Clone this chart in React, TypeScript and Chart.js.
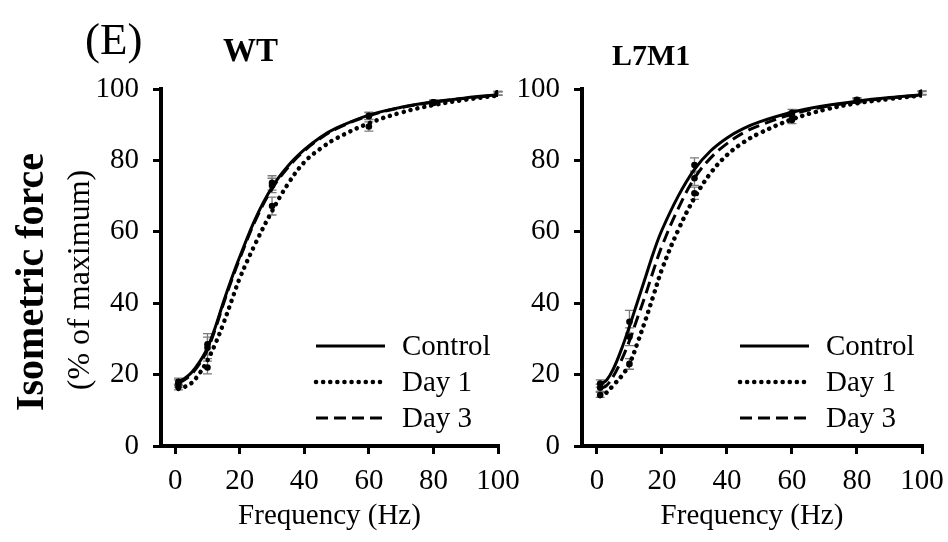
import React, { useEffect, useRef } from "react";
import { Chart, registerables } from "chart.js";

Chart.register(...registerables);

// ---------- data ----------
const SERIES_LABELS = ["Control", "Day 1", "Day 3"];
const X_TICKS = [0, 20, 40, 60, 80, 100];
const Y_TICKS = [0, 20, 40, 60, 80, 100];

// fitted curves
const FIT_FREQ = [1, 3, 5, 7.5, 10, 12.5, 15, 17.5, 20, 25, 30, 35, 40, 45, 50, 60, 70, 80, 90, 100];
const WT_CONTROL_FIT = [18, 19, 20.5, 23.5, 27.5, 33.5, 40.5, 47, 53, 64, 72.5, 78.5, 83, 86.5, 89.1, 92.7, 94.9, 96.4, 97.5, 98.4];
const WT_DAY1_FIT = [16, 16.6, 17.6, 20.3, 24, 28.8, 34.5, 40.8, 47, 57, 65.8, 73.5, 79.5, 83.3, 86.2, 90.4, 93.4, 95.5, 97, 98.2];
const WT_DAY3_FIT = [17.6, 18.6, 20.1, 23, 27, 33, 40, 46.5, 52.5, 63.5, 72, 78.1, 82.7, 86.2, 88.9, 92.5, 94.8, 96.3, 97.4, 98.3];

const L7M1_CONTROL_FIT = [17.3, 18.5, 21.5, 27, 33.5, 40.5, 47.5, 54.5, 60.5, 70, 77.5, 82.7, 86.3, 88.9, 90.8, 93.5, 95.3, 96.6, 97.6, 98.4];
const L7M1_DAY1_FIT = [14, 15, 17, 19.5, 23, 29, 35.5, 42.5, 49.5, 60.5, 69.5, 76.5, 81.5, 85, 87.6, 91.5, 94.2, 96, 97.2, 98.2];
const L7M1_DAY3_FIT = [16, 17, 19.5, 24, 29.5, 36, 42.5, 49.5, 56, 66.5, 75, 80.7, 84.7, 87.7, 89.8, 92.9, 95, 96.4, 97.5, 98.3];

// measured means and error bars
const DATA_FREQ = [1, 10, 30, 60, 80, 100];
const WT_CONTROL_MEAN = [18, 28.5, 73.7, 92.5, 96.3, 98.8];
const WT_CONTROL_ERR = [1, 3, 2, 1, 0.6, 0.5];
const WT_DAY1_MEAN = [16.5, 22, 67.2, 89.5, 96.1, 98.7];
const WT_DAY1_ERR = [0.8, 1.8, 2.5, 1.3, 0.6, 0.5];
const WT_DAY3_MEAN = [17.5, 27.5, 73, 92.4, 96.3, 98.8];
const WT_DAY3_ERR = [1, 3, 2, 1, 0.6, 0.5];

const L7M1_CONTROL_MEAN = [17.5, 34.8, 78.7, 93.3, 97, 99];
const L7M1_CONTROL_ERR = [1, 3.2, 2, 1, 0.6, 0.5];
const L7M1_DAY1_MEAN = [14.3, 23, 70.8, 91.3, 96.6, 98.8];
const L7M1_DAY1_ERR = [0.7, 1.5, 1.7, 1, 0.6, 0.5];
const L7M1_DAY3_MEAN = [16.3, 30.6, 75, 92.6, 96.8, 98.9];
const L7M1_DAY3_ERR = [1, 2.5, 2, 1, 0.6, 0.5];

// ---------- styles ----------
const FONT = "'Liberation Serif', 'Times New Roman', serif";
const LINE_STYLES = [
  { dash: [] as number[], width: 3, cap: "butt" as CanvasLineCap },
  { dash: [0.1, 7], width: 4.5, cap: "round" as CanvasLineCap },
  { dash: [12, 6], width: 3, cap: "butt" as CanvasLineCap },
];

const toXY = (xs: number[], ys: number[]) => xs.map((x, i) => ({ x, y: ys[i] }));

const errorBarPlugin = {
  id: "errorBars",
  beforeDatasetsDraw(chart: any) {
    const { ctx } = chart;
    const xs = chart.scales.x;
    const ys = chart.scales.y;
    ctx.save();
    ctx.strokeStyle = "#7a7a7a";
    ctx.lineWidth = 1.3;
    chart.data.datasets.forEach((ds: any) => {
      if (!ds.errors) return;
      ds.data.forEach((p: any, i: number) => {
        const e = ds.errors[i];
        const px = xs.getPixelForValue(p.x);
        const y1 = ys.getPixelForValue(p.y + e);
        const y2 = ys.getPixelForValue(p.y - e);
        ctx.beginPath();
        ctx.moveTo(px, y1);
        ctx.lineTo(px, y2);
        ctx.moveTo(px - 4.5, y1);
        ctx.lineTo(px + 4.5, y1);
        ctx.moveTo(px - 4.5, y2);
        ctx.lineTo(px + 4.5, y2);
        ctx.stroke();
      });
    });
    ctx.restore();
  },
};

const legendPlugin = {
  id: "inlineLegend",
  afterDatasetsDraw(chart: any) {
    const { ctx, chartArea } = chart;
    const offsets = [100, 64, 28];
    ctx.save();
    SERIES_LABELS.forEach((label, i) => {
      const st = LINE_STYLES[i];
      const y = chartArea.bottom - offsets[i];
      ctx.beginPath();
      ctx.setLineDash(st.dash);
      ctx.lineCap = st.cap;
      ctx.lineWidth = st.width;
      ctx.strokeStyle = "#000";
      ctx.moveTo(chartArea.right - 182, y);
      ctx.lineTo(chartArea.right - 113, y);
      ctx.stroke();
      ctx.setLineDash([]);
      ctx.fillStyle = "#000";
      ctx.font = `29px ${FONT}`;
      ctx.textBaseline = "middle";
      ctx.textAlign = "left";
      ctx.fillText(label, chartArea.right - 96, y + 1);
    });
    ctx.restore();
  },
};

type PanelProps = {
  left: number;
  width: number;
  yAxisWidth: number;
  rightPad: number;
  xMin: number;
  fits: number[][];
  means: number[][];
  errs: number[][];
};

function Panel(props: PanelProps) {
  const ref = useRef<HTMLCanvasElement>(null);
  useEffect(() => {
    if (!ref.current) return;
    const datasets: any[] = [];
    props.fits.forEach((f, i) => {
      const st = LINE_STYLES[i];
      datasets.push({
        label: SERIES_LABELS[i],
        data: toXY(FIT_FREQ, f),
        showLine: true,
        borderColor: "#000",
        borderWidth: st.width,
        borderDash: st.dash,
        borderCapStyle: st.cap,
        pointRadius: 0,
        tension: 0.4,
        fill: false,
      });
    });
    props.means.forEach((m, i) => {
      datasets.push({
        label: SERIES_LABELS[i] + " data",
        data: toXY(DATA_FREQ, m),
        errors: props.errs[i],
        showLine: false,
        pointRadius: 3.3,
        pointBackgroundColor: "#000",
        pointBorderColor: "#000",
        pointBorderWidth: 0,
      });
    });
    const chart = new Chart(ref.current, {
      type: "scatter",
      data: { datasets },
      options: {
        animation: false,
        responsive: false,
        maintainAspectRatio: false,
        layout: { padding: { left: 0, top: 89, right: props.rightPad, bottom: 0 } },
        plugins: { legend: { display: false }, tooltip: { enabled: false } },
        scales: {
          x: {
            type: "linear",
            min: props.xMin,
            max: 100,
            afterBuildTicks: (s: any) => {
              s.ticks = X_TICKS.map((v) => ({ value: v }));
            },
            afterFit: (s: any) => {
              s.height = 96;
            },
            border: { display: true, color: "#000", width: 4 },
            grid: { drawOnChartArea: false, drawTicks: true, tickLength: 8, lineWidth: 3, color: "#000" },
            ticks: { color: "#000", font: { family: FONT, size: 29 }, padding: 10, maxRotation: 0 },
            title: {
              display: true,
              text: "Frequency (Hz)",
              color: "#000",
              font: { family: FONT, size: 29 },
              padding: { top: 0, bottom: 8 },
            },
          },
          y: {
            type: "linear",
            min: 0,
            max: 100,
            afterBuildTicks: (s: any) => {
              s.ticks = Y_TICKS.map((v) => ({ value: v }));
            },
            afterFit: (s: any) => {
              s.width = props.yAxisWidth;
            },
            border: { display: true, color: "#000", width: 4 },
            grid: { drawOnChartArea: false, drawTicks: true, tickLength: 8, lineWidth: 3, color: "#000" },
            ticks: { color: "#000", font: { family: FONT, size: 29 }, padding: 14 },
          },
        },
      },
      plugins: [errorBarPlugin, legendPlugin],
    } as any);
    return () => chart.destroy();
  }, []);
  return (
    <canvas
      ref={ref}
      width={props.width}
      height={542}
      style={{ position: "absolute", left: props.left, top: 0, width: props.width, height: 542 }}
    />
  );
}

const textBase: React.CSSProperties = {
  position: "absolute",
  fontFamily: FONT,
  lineHeight: 1,
  color: "#000",
  whiteSpace: "nowrap",
};

export default function App() {
  return (
    <div style={{ position: "fixed", left: 0, top: 0, width: 948, height: 542, background: "#fff", overflow: "hidden" }}>
      <Panel
        left={0}
        width={540}
        yAxisWidth={161}
        rightPad={42}
        xMin={-4.4}
        fits={[WT_CONTROL_FIT, WT_DAY1_FIT, WT_DAY3_FIT]}
        means={[WT_CONTROL_MEAN, WT_DAY1_MEAN, WT_DAY3_MEAN]}
        errs={[WT_CONTROL_ERR, WT_DAY1_ERR, WT_DAY3_ERR]}
      />
      <Panel
        left={500}
        width={464}
        yAxisWidth={82}
        rightPad={42}
        xMin={-4.6}
        fits={[L7M1_CONTROL_FIT, L7M1_DAY1_FIT, L7M1_DAY3_FIT]}
        means={[L7M1_CONTROL_MEAN, L7M1_DAY1_MEAN, L7M1_DAY3_MEAN]}
        errs={[L7M1_CONTROL_ERR, L7M1_DAY1_ERR, L7M1_DAY3_ERR]}
      />
      <div style={{ ...textBase, left: 85, top: 17, fontSize: 45 }}>(E)</div>
      <div style={{ ...textBase, left: 223, top: 34, fontSize: 33, fontWeight: "bold" }}>WT</div>
      <div style={{ ...textBase, left: 612, top: 40, fontSize: 30, fontWeight: "bold" }}>L7M1</div>
      <div
        style={{
          ...textBase,
          left: 30,
          top: 282,
          fontSize: 40,
          fontWeight: "bold",
          transform: "translate(-50%, -50%) rotate(-90deg)",
        }}
      >
        Isometric force
      </div>
      <div
        style={{
          ...textBase,
          left: 78,
          top: 280,
          fontSize: 32,
          transform: "translate(-50%, -50%) rotate(-90deg)",
        }}
      >
        (% of maximum)
      </div>
    </div>
  );
}
